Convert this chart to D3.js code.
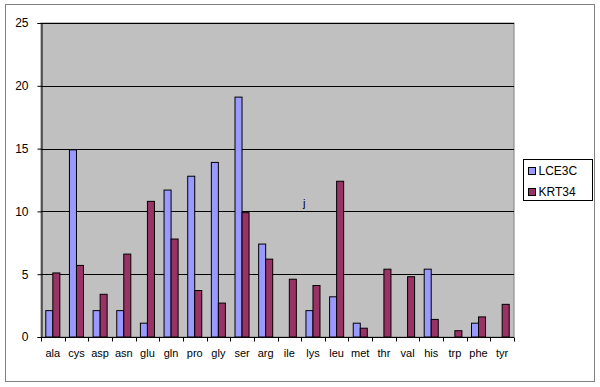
<!DOCTYPE html>
<html>
<head>
<meta charset="utf-8">
<script src="https://cdn.jsdelivr.net/npm/d3@7"></script>
<style>
  body { margin: 0; background: #fff; }
  svg text { font-family: "Liberation Sans", Arial, sans-serif; }
</style>
</head>
<body>
<svg id="chart" width="600" height="387"></svg>
<script>
const categories = ["ala", "cys", "asp", "asn", "glu", "gln", "pro", "gly", "ser", "arg",
                    "ile", "lys", "leu", "met", "thr", "val", "his", "trp", "phe", "tyr"];
const seriesNames = ["LCE3C", "KRT34"];
const lce3c = [2.1, 14.9, 2.1, 2.1, 1.1, 11.7, 12.8, 13.9, 19.1, 7.4,
               0, 2.1, 3.2, 1.1, 0, 0, 5.4, 0, 1.1, 0];
const krt34 = [5.1, 5.7, 3.4, 6.6, 10.8, 7.8, 3.7, 2.7, 9.9, 6.2,
               4.6, 4.1, 12.4, 0.7, 5.4, 4.8, 1.4, 0.5, 1.6, 2.6];
const yTicks = [0, 5, 10, 15, 20, 25];
const colors = ["#9999FF", "#993366"];

const svg = d3.select("#chart");
const plot = {left: 41, right: 514, top: 23, bottom: 337};

// outer chart border
svg.append("rect")
    .attr("x", 5.5).attr("y", 4.5)
    .attr("width", 589).attr("height", 377)
    .attr("fill", "#fff")
    .attr("stroke", "#808080");

// plot area background
svg.append("rect")
    .attr("x", plot.left).attr("y", plot.top)
    .attr("width", plot.right - plot.left).attr("height", plot.bottom - plot.top)
    .attr("fill", "#C0C0C0")
    .attr("stroke", "#808080");

const x = d3.scaleBand()
    .domain(categories)
    .range([plot.left, plot.right]);
const xs = d3.scaleBand()
    .domain(seriesNames)
    .range([4.8, x.bandwidth() - 4.8]);
const y = d3.scaleLinear()
    .domain([0, 25])
    .range([plot.bottom, plot.top]);

// gridlines
svg.append("g")
    .selectAll("line")
    .data(yTicks.slice(1))
    .join("line")
    .attr("x1", plot.left).attr("x2", plot.right)
    .attr("y1", d => Math.round(y(d)) + 0.5)
    .attr("y2", d => Math.round(y(d)) + 0.5)
    .attr("stroke", "#000");

// bars
const data = categories.map((c, i) => ({cat: c, vals: [lce3c[i], krt34[i]]}));
const groups = svg.append("g")
    .selectAll("g")
    .data(data)
    .join("g")
    .attr("transform", d => `translate(${x(d.cat)},0)`);
groups.selectAll("rect")
    .data(d => d.vals.map((v, j) => ({name: seriesNames[j], v: v, j: j})).filter(d => d.v > 0))
    .join("rect")
    .attr("x", d => xs(d.name))
    .attr("width", xs.bandwidth())
    .attr("y", d => y(d.v))
    .attr("height", d => y(0) - y(d.v))
    .attr("fill", d => colors[d.j])
    .attr("stroke", "#000")
    .attr("stroke-width", 1);

// y axis
const yAxis = svg.append("g")
    .attr("transform", `translate(${plot.left + 0.5},0)`)
    .call(d3.axisLeft(y).tickValues(yTicks).tickSize(4).tickPadding(9).tickFormat(d3.format("d")));
yAxis.select(".domain").attr("stroke", "#000");
yAxis.selectAll("text").style("font-size", "12px").attr("fill", "#000");

// x axis, ticks between the categories
const xAxis = svg.append("g")
    .attr("transform", `translate(0,${plot.bottom + 0.5})`);
xAxis.append("line")
    .attr("x1", plot.left).attr("x2", plot.right)
    .attr("stroke", "#000");
xAxis.selectAll(".tick")
    .data(categories.concat([null]))
    .join("line")
    .attr("x1", (d, i) => Math.round(plot.left + i * x.step()) + 0.5)
    .attr("x2", (d, i) => Math.round(plot.left + i * x.step()) + 0.5)
    .attr("y1", 0).attr("y2", 4)
    .attr("stroke", "#000");
xAxis.selectAll("text")
    .data(categories)
    .join("text")
    .attr("x", d => x(d) + x.bandwidth() / 2)
    .attr("y", 19)
    .attr("text-anchor", "middle")
    .style("font-size", "11px")
    .text(d => d);

// stray mark in the original
svg.append("text")
    .attr("x", 303).attr("y", 207)
    .style("font-size", "11px")
    .text("j");

// legend
const legend = svg.append("g").attr("transform", "translate(523.5,159.5)");
legend.append("rect")
    .attr("width", 69).attr("height", 41)
    .attr("fill", "#fff")
    .attr("stroke", "#000");
const items = legend.selectAll("g")
    .data(seriesNames)
    .join("g")
    .attr("transform", (d, i) => `translate(5,${11.5 + i * 21})`);
items.append("rect")
    .attr("x", 0).attr("y", -3.5)
    .attr("width", 7).attr("height", 7)
    .attr("fill", (d, i) => colors[i])
    .attr("stroke", "#000");
items.append("text")
    .attr("x", 10).attr("y", 0)
    .attr("dy", "0.36em")
    .style("font-size", "12px")
    .text(d => d);
</script>
</body>
</html>
